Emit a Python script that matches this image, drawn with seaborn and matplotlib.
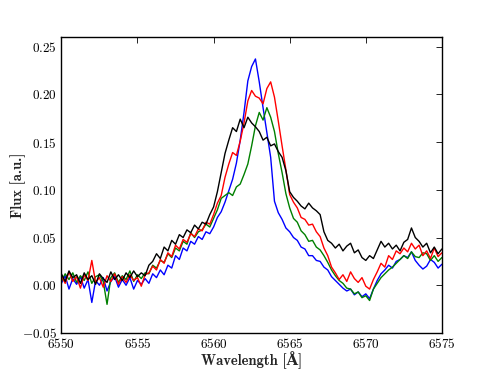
import numpy as np
import pandas as pd
import matplotlib
matplotlib.use('Agg')
import matplotlib.pyplot as plt
import seaborn as sns

# spectral grid, 0.25 A steps
wavelength = np.linspace(6550, 6575, 101)

flux_blue = [0.002, 0.010, -0.004, 0.007, 0.001, 0.009, -0.003, 0.006, -0.018, 0.005,
             0.000, 0.008, -0.006, 0.004, 0.009, -0.002, 0.006, 0.000, 0.008, -0.004,
             0.005, 0.001, 0.007, 0.002, 0.012, 0.008, 0.016, 0.011, 0.021, 0.018,
             0.031, 0.027, 0.039, 0.036, 0.046, 0.043, 0.051, 0.048, 0.056, 0.054,
             0.061, 0.071, 0.077, 0.087, 0.099, 0.111, 0.128, 0.152, 0.181, 0.214,
             0.229, 0.237, 0.213, 0.186, 0.160, 0.134, 0.088, 0.076, 0.069, 0.060,
             0.056, 0.050, 0.047, 0.040, 0.038, 0.031, 0.031, 0.026, 0.025, 0.019,
             0.016, 0.009, 0.005, 0.001, -0.003, -0.006, -0.004, -0.010, -0.007, -0.012,
             -0.009, -0.014, -0.004, 0.005, 0.012, 0.016, 0.021, 0.018, 0.025, 0.027,
             0.031, 0.029, 0.035, 0.026, 0.021, 0.017, 0.020, 0.027, 0.024, 0.018,
             0.022]

flux_green = [0.004, 0.012, 0.006, 0.013, 0.003, 0.010, 0.005, 0.014, 0.002, 0.009,
              0.011, 0.004, -0.020, 0.008, 0.013, 0.003, 0.010, 0.006, 0.015, 0.004,
              0.011, 0.007, 0.013, 0.012, 0.021, 0.018, 0.026, 0.024, 0.033, 0.029,
              0.039, 0.036, 0.046, 0.043, 0.055, 0.050, 0.056, 0.058, 0.064, 0.061,
              0.070, 0.079, 0.091, 0.094, 0.097, 0.094, 0.103, 0.106, 0.116, 0.127,
              0.146, 0.167, 0.181, 0.173, 0.186, 0.176, 0.161, 0.138, 0.118, 0.096,
              0.081, 0.070, 0.066, 0.057, 0.053, 0.046, 0.047, 0.040, 0.037, 0.031,
              0.024, 0.016, 0.010, 0.005, 0.002, -0.003, -0.004, -0.009, -0.007, -0.013,
              -0.011, -0.016, -0.004, 0.002, 0.008, 0.012, 0.016, 0.019, 0.023, 0.027,
              0.031, 0.028, 0.035, 0.030, 0.029, 0.034, 0.033, 0.026, 0.031, 0.025,
              0.029]

flux_red = [0.010, 0.002, 0.014, 0.004, 0.009, -0.003, 0.011, 0.005, 0.026, 0.003,
            0.008, -0.002, 0.010, 0.004, 0.012, 0.001, 0.009, 0.003, 0.011, 0.005,
            0.008, -0.001, 0.011, 0.013, 0.020, 0.016, 0.027, 0.023, 0.034, 0.030,
            0.042, 0.038, 0.048, 0.045, 0.054, 0.051, 0.059, 0.057, 0.066, 0.064,
            0.074, 0.086, 0.094, 0.113, 0.127, 0.139, 0.136, 0.151, 0.170, 0.193,
            0.204, 0.198, 0.196, 0.190, 0.206, 0.213, 0.197, 0.172, 0.146, 0.121,
            0.095, 0.087, 0.081, 0.071, 0.069, 0.063, 0.064, 0.056, 0.051, 0.039,
            0.031, 0.019, 0.013, 0.006, 0.011, 0.004, 0.014, 0.007, 0.003, 0.008,
            -0.001, -0.004, 0.006, 0.014, 0.023, 0.019, 0.031, 0.027, 0.036, 0.033,
            0.039, 0.035, 0.044, 0.038, 0.042, 0.031, 0.036, 0.028, 0.039, 0.030,
            0.034]

flux_black = [0.012, 0.004, 0.015, 0.008, 0.011, 0.002, 0.013, 0.006, 0.010, 0.001,
              0.012, 0.007, 0.003, 0.014, 0.006, 0.011, 0.005, 0.013, 0.008, 0.015,
              0.009, 0.013, 0.010, 0.021, 0.025, 0.033, 0.028, 0.040, 0.036, 0.047,
              0.043, 0.053, 0.050, 0.058, 0.055, 0.063, 0.059, 0.066, 0.064, 0.074,
              0.082, 0.098, 0.118, 0.138, 0.152, 0.165, 0.161, 0.174, 0.165, 0.176,
              0.170, 0.166, 0.161, 0.152, 0.155, 0.146, 0.148, 0.140, 0.134, 0.120,
              0.098, 0.092, 0.088, 0.083, 0.080, 0.086, 0.081, 0.078, 0.074, 0.056,
              0.047, 0.044, 0.039, 0.043, 0.036, 0.041, 0.044, 0.034, 0.037, 0.029,
              0.026, 0.031, 0.028, 0.037, 0.046, 0.040, 0.044, 0.038, 0.042, 0.036,
              0.045, 0.048, 0.060, 0.050, 0.046, 0.040, 0.044, 0.034, 0.040, 0.033,
              0.038]

series = [('blue', flux_blue, '#0000ff'),
          ('green', flux_green, '#008000'),
          ('red', flux_red, '#ff0000'),
          ('black', flux_black, '#000000')]

sns.set_style('white')
plt.rcParams['font.family'] = 'serif'
plt.rcParams['font.serif'] = ['cmr10', 'DejaVu Serif']
plt.rcParams['mathtext.fontset'] = 'cm'
plt.rcParams['axes.formatter.use_mathtext'] = True

fig = plt.figure(figsize=(4.91, 3.70), dpi=100)
ax = fig.add_axes([0.125, 0.1, 0.775, 0.8])

for name, flux, col in series:
    df = pd.DataFrame({'wave': wavelength, 'flux': flux})
    sns.lineplot(x='wave', y='flux', data=df, color=col, linewidth=1.0, ax=ax)

ax.set_xlim(6550, 6575)
ax.set_ylim(-0.05, 0.26)
ax.set_xticks([6550, 6555, 6560, 6565, 6570, 6575])
ax.set_yticks([-0.05, 0.00, 0.05, 0.10, 0.15, 0.20, 0.25])
ax.ticklabel_format(useOffset=False)
ax.tick_params(direction='in', top=True, right=True, length=4, width=0.6,
               labelsize=9.5, colors='black', pad=3)
for sp in ax.spines.values():
    sp.set_linewidth(1.0)
    sp.set_color('black')

lab_font = dict(family=['cmb10', 'DejaVu Serif'], size=10.5, weight='bold')
ax.set_xlabel('Wavelength [Å]', fontdict=lab_font, labelpad=0)
ax.set_ylabel('Flux [a.u.]', fontdict=lab_font, labelpad=-3)

fig.savefig('out.png', dpi=100)
